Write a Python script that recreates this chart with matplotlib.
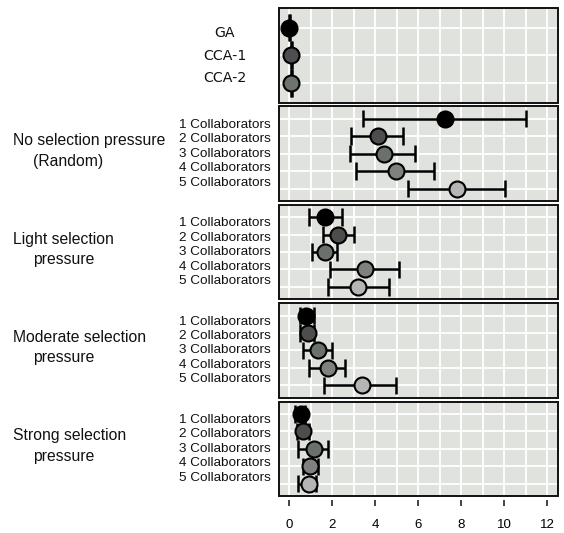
import matplotlib
matplotlib.use("Agg")
import matplotlib.pyplot as plt
from matplotlib.patches import Rectangle

# ---------------- data ----------------
baseline_labels = ["GA", "CCA-1", "CCA-2"]
baseline_mean = [0.0, 0.1, 0.1]
baseline_lo = [-0.02, 0.08, 0.08]
baseline_hi = [0.02, 0.12, 0.12]

group_line1 = ["No selection pressure", "Light selection", "Moderate selection", "Strong selection"]
group_line2 = ["(Random)", "pressure", "pressure", "pressure"]
collab_labels = ["1 Collaborators", "2 Collaborators", "3 Collaborators",
                 "4 Collaborators", "5 Collaborators"]

no_sel_mean = [7.24, 4.14, 4.41, 4.96, 7.82]
no_sel_lo = [3.45, 2.88, 2.83, 3.11, 5.54]
no_sel_hi = [11.0, 5.30, 5.85, 6.74, 10.04]

light_mean = [1.67, 2.29, 1.67, 3.53, 3.22]
light_lo = [0.90, 1.56, 1.05, 1.90, 1.78]
light_hi = [2.44, 3.02, 2.24, 5.12, 4.64]

moderate_mean = [0.79, 0.85, 1.36, 1.78, 3.37]
moderate_lo = [0.51, 0.51, 0.66, 0.90, 1.62]
moderate_hi = [1.13, 1.16, 1.98, 2.60, 4.96]

strong_mean = [0.54, 0.66, 1.17, 0.98, 0.90]
strong_lo = [0.28, 0.36, 0.42, 0.64, 0.43]
strong_hi = [0.74, 0.93, 1.80, 1.33, 1.24]

x_ticks = [0, 2, 4, 6, 8, 10, 12]

# ---------------- style ----------------
baseline_colors = ["#000000", "#4e4e4e", "#6d746d"]
collab_colors = ["#000000", "#4d4d4d", "#6a716a", "#7f817f", "#b5b5b5"]
bg = "#dfe2dd"
FONT = "Liberation Sans"

W, H = 564, 533
fig = plt.figure(figsize=(W / 100, H / 100), dpi=100)
left_px, right_px = 278.5, 558.0
top0, ph, gap = 8.0, 94.5, 3.9

panels = [
    (baseline_labels, baseline_mean, baseline_lo, baseline_hi, baseline_colors, None, None),
    (collab_labels, no_sel_mean, no_sel_lo, no_sel_hi, collab_colors, group_line1[0], group_line2[0]),
    (collab_labels, light_mean, light_lo, light_hi, collab_colors, group_line1[1], group_line2[1]),
    (collab_labels, moderate_mean, moderate_lo, moderate_hi, collab_colors, group_line1[2], group_line2[2]),
    (collab_labels, strong_mean, strong_lo, strong_hi, collab_colors, group_line1[3], group_line2[3]),
]

for i, (labels, mean, lo, hi, colors, g1, g2) in enumerate(panels):
    top = top0 + i * (ph + gap)
    ax = fig.add_axes([left_px / W, 1 - (top + ph) / H, (right_px - left_px) / W, ph / H])
    ax.set_facecolor(bg)
    n = len(labels)
    rows = list(range(1, n + 1))
    ax.set_xlim(-0.5, 12.5)
    ax.set_ylim(n + 0.71, 0.29)

    # grid
    for gx in range(0, 13):
        ax.axvline(gx, color="white", lw=1.3, zorder=0)
    for r in rows:
        ax.axhline(r, color="white", lw=1.3, zorder=0)

    # error bars and caps
    ax.hlines(rows, lo, hi, color="black", lw=1.8, zorder=2, clip_on=False)
    ax.vlines(lo, [r - 0.5 for r in rows], [r + 0.5 for r in rows],
              color="black", lw=1.8, zorder=2, clip_on=False)
    ax.vlines(hi, [r - 0.5 for r in rows], [r + 0.5 for r in rows],
              color="black", lw=1.8, zorder=2, clip_on=False)
    for r, m, c in zip(rows, mean, colors):
        ax.plot([m], [r], "o", ms=11.5, mfc=c, mec="black", mew=1.5,
                zorder=3, clip_on=False)

    for s in ax.spines.values():
        s.set_visible(False)
    ax.add_patch(Rectangle((0, 0), 1, 1, transform=ax.transAxes, fill=False,
                           ec="#111111", lw=1.4, zorder=5, clip_on=False))
    ax.set_yticks([])

    if i == len(panels) - 1:
        ax.spines["bottom"].set_position(("outward", 3))
        ax.set_xticks(x_ticks)
        ax.set_xticklabels([str(t) for t in x_ticks], fontfamily=FONT, fontsize=9.5)
        ax.tick_params(axis="x", direction="out", length=4.5, width=1.1, pad=9,
                       color="#111111")
    else:
        ax.set_xticks([])

    # category labels
    if i == 0:
        for k, lab in enumerate(labels):
            ax.text(-0.193, 0.495 + (1 - k) * 0.237, lab, transform=ax.transAxes,
                    ha="center", va="center", fontsize=10.2, family="DejaVu Sans",
                    color="#111111")
    else:
        for k, lab in enumerate(labels):
            ax.text(-0.027, 0.5 + (2 - k) * 0.153, lab, transform=ax.transAxes,
                    ha="right", va="center", fontsize=9.7, family=FONT,
                    color="#111111")
        cy = top + ph / 2
        fig.text(13 / W, 1 - (cy - 13) / H, g1, ha="left", va="center",
                 fontsize=11.3, family=FONT, color="#111111")
        fig.text(33 / W, 1 - (cy + 7.5) / H, g2, ha="left", va="center",
                 fontsize=11.3, family=FONT, color="#111111")

fig.savefig("out.png", dpi=100, facecolor="white")
